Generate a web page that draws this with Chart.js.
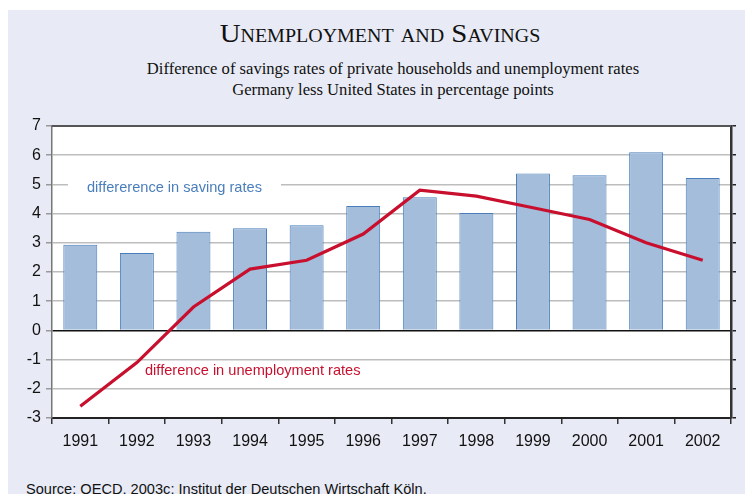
<!DOCTYPE html>
<html>
<head>
<meta charset="utf-8">
<script src="https://cdn.jsdelivr.net/npm/chart.js@4.4.0/dist/chart.umd.min.js"></script>
<style>
    html, body { margin: 0; padding: 0; width: 745px; height: 494px; overflow: hidden; background: #fff; }
    .panel { position: absolute; left: 8px; top: 10px; width: 737px; height: 484px; background: #e8ebf5; }
    .txt { position: absolute; white-space: nowrap; line-height: 1; color: #111; }
    .title { font-family: "Liberation Serif", serif; font-size: 26px; font-variant: small-caps; top: 21px; left: 0; width: 760px; text-align: center; transform: scaleX(1.11); transform-origin: 380px 0; }
    .sub { font-family: "Liberation Serif", serif; font-size: 16.6px; left: 0; width: 786px; text-align: center; }
    .source { font-family: "Liberation Sans", Arial, sans-serif; font-size: 14.6px; left: 26px; top: 482px; }
    canvas { position: absolute; left: 0; top: 0; }
</style>
</head>
<body>
<div class="panel"></div>
<div class="txt title">Unemployment and Savings</div>
<div class="txt sub" style="top:61px">Difference of savings rates of private households and unemployment rates</div>
<div class="txt sub" style="top:82px">Germany less United States in percentage points</div>
<div class="txt source">Source: OECD, 2003c; Institut der Deutschen Wirtschaft Köln.</div>
<canvas id="myChart" width="745" height="494"></canvas>
<script>
// данные
const years = ['1991', '1992', '1993', '1994', '1995', '1996', '1997', '1998', '1999', '2000', '2001', '2002'];
const savingDiff = [2.93, 2.65, 3.38, 3.5, 3.6, 4.26, 4.56, 4.02, 5.37, 5.31, 6.1, 5.22];
const unemploymentDiff = [-2.6, -1.1, 0.8, 2.1, 2.4, 3.3, 4.8, 4.6, 4.2, 3.8, 3.0, 2.4];
const yTicks = [-3, -2, -1, 0, 1, 2, 3, 4, 5, 6, 7];

const savingLabel = 'differerence in saving rates';
const unemploymentLabel = 'difference in unemployment rates';

const blue = '#4a7ebb';
const red = '#c8102e';
const axisFont = { family: '"Liberation Sans", Arial, sans-serif', size: 16 };

// белый фон области графика + рамка сверху
const plotFrame = {
    id: 'plotFrame',
    beforeDraw(chart) {
        const { ctx, chartArea: a } = chart;
        ctx.save();
        ctx.fillStyle = '#ffffff';
        ctx.fillRect(a.left, a.top, a.right - a.left, a.bottom - a.top);
        ctx.restore();
    },
    afterDatasetsDraw(chart) {
        const { ctx, chartArea: a } = chart;
        ctx.save();
        ctx.strokeStyle = '#555';
        ctx.lineWidth = 2;
        ctx.beginPath();
        ctx.moveTo(a.left, a.top);
        ctx.lineTo(a.right, a.top);
        ctx.stroke();
        ctx.restore();
    }
};

// подписи рядов прямо на графике (с белой подложкой под синей)
const seriesNotes = {
    id: 'seriesNotes',
    afterDatasetsDraw(chart) {
        const { ctx, chartArea: a, scales: { y } } = chart;
        ctx.save();
        ctx.font = '14.6px "Liberation Sans", Arial, sans-serif';
        ctx.textBaseline = 'middle';

        const y1 = y.getPixelForValue(4.88);
        const w1 = ctx.measureText(savingLabel).width;
        ctx.fillStyle = '#ffffff';
        ctx.fillRect(a.left + 16, y1 - 9, w1 + 38, 18);
        ctx.fillStyle = blue;
        ctx.fillText(savingLabel, a.left + 35, y1);

        ctx.fillStyle = red;
        ctx.fillText(unemploymentLabel, a.left + 93, y.getPixelForValue(-1.38));
        ctx.restore();
    }
};

const ctx = document.getElementById('myChart').getContext('2d');
const chart = new Chart(ctx, {
    data: {
        labels: years,
        datasets: [
            {
                type: 'line',
                data: unemploymentDiff,
                borderColor: red,
                borderWidth: 3.2,
                pointRadius: 0,
                tension: 0,
                order: 0
            },
            {
                type: 'bar',
                data: savingDiff,
                backgroundColor: '#a4bddb',
                borderColor: blue,
                borderWidth: 1,
                barPercentage: 0.6,
                categoryPercentage: 1,
                order: 1
            }
        ]
    },
    options: {
        responsive: false,
        animation: false,
        layout: { padding: { top: 126, left: 0, right: 0, bottom: 0 } },
        plugins: { legend: { display: false }, tooltip: { enabled: false } },
        scales: {
            x: {
                grid: { display: true, offset: true, drawOnChartArea: false, color: '#333', tickLength: 6, lineWidth: 1.5 },
                border: { color: '#222', width: 2 },
                ticks: { color: '#111', font: axisFont, padding: 8 },
                afterFit: s => { s.height = 76; }
            },
            y: {
                min: -3, max: 7,
                afterBuildTicks: s => { s.ticks = yTicks.map(v => ({ value: v })); },
                grid: {
                    color: c => c.tick.value === 0 ? '#111' : '#bdbdbd',
                    lineWidth: 1.5,
                    tickLength: 6,
                    tickColor: '#999'
                },
                border: { color: '#777', width: 1.5 },
                ticks: { color: '#111', font: axisFont, padding: 5 },
                afterFit: s => { s.width = 52; }
            },
            y2: {
                position: 'right',
                min: -3, max: 7,
                afterBuildTicks: s => { s.ticks = yTicks.map(v => ({ value: v })); },
                grid: { drawOnChartArea: false, tickLength: 5, color: '#222', lineWidth: 1.5 },
                border: { color: '#333', width: 2.5 },
                ticks: { display: false },
                afterFit: s => { s.width = 14; }
            }
        }
    },
    plugins: [plotFrame, seriesNotes]
});
</script>
</body>
</html>
